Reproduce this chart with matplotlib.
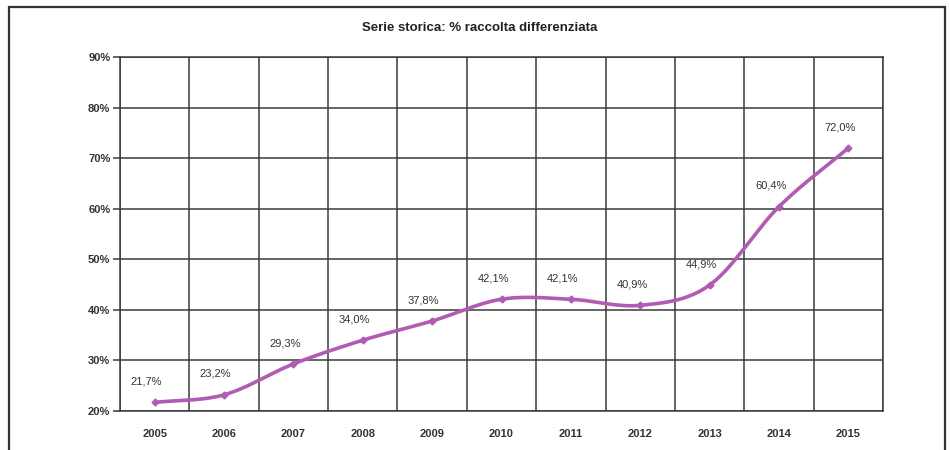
import numpy as np
import matplotlib
matplotlib.use("Agg")
import matplotlib.pyplot as plt
from matplotlib.patches import Rectangle
from matplotlib.ticker import FixedLocator

years = ["2005", "2006", "2007", "2008", "2009", "2010", "2011", "2012", "2013", "2014", "2015"]
values = [21.7, 23.2, 29.3, 34.0, 37.8, 42.1, 42.1, 40.9, 44.9, 60.4, 72.0]
labels = ["21,7%", "23,2%", "29,3%", "34,0%", "37,8%", "42,1%", "42,1%", "40,9%", "44,9%", "60,4%", "72,0%"]
yticks = [20, 30, 40, 50, 60, 70, 80, 90]
title = "Serie storica: % raccolta differenziata"

plt.rcParams['font.family'] = ['Liberation Sans', 'DejaVu Sans']
line_color = "#B05CB2"
text_color = "#333333"
grid_color = "#3a3a3a"

fig = plt.figure(figsize=(9.5, 4.5), dpi=100)
ax = fig.add_axes([120/950, 1-411/450, (883-120)/950, (411-57)/450])

x = np.arange(len(years), dtype=float)
y = np.array(values, dtype=float)

# Catmull-Rom style smoothing (like spreadsheet "smoothed line")
def smooth(xp, yp, n=30):
    px = np.concatenate([[2*xp[0]-xp[1]], xp, [2*xp[-1]-xp[-2]]])
    py = np.concatenate([[2*yp[0]-yp[1]], yp, [2*yp[-1]-yp[-2]]])
    xs, ys = [], []
    for i in range(1, len(px)-2):
        t = np.linspace(0, 1, n, endpoint=False)
        for arr, out in ((px, xs), (py, ys)):
            p0, p1, p2, p3 = arr[i-1], arr[i], arr[i+1], arr[i+2]
            out.extend(0.5*((2*p1) + (-p0+p2)*t + (2*p0-5*p1+4*p2-p3)*t**2 + (-p0+3*p1-3*p2+p3)*t**3))
    xs.append(xp[-1]); ys.append(yp[-1])
    return np.array(xs), np.array(ys)

sx, sy = smooth(x, y)
ax.plot(sx, sy, color=line_color, lw=2.6, solid_capstyle='round', zorder=3)
ax.plot(x, y, linestyle='none', marker='D', ms=3.5, color=line_color, zorder=4)

for xi, yi, lab in zip(x, y, labels):
    ax.annotate(lab, (xi, yi), xytext=(-6, 15), textcoords='offset points',
                ha='center', va='center', fontsize=8, color=text_color)

ax.set_xlim(-0.5, len(years)-0.5)
ax.set_ylim(20, 90)
ax.set_yticks(yticks)
ax.set_yticklabels([f"{v}%" for v in yticks])
ax.set_xticks(x)
ax.set_xticklabels(years)
ax.xaxis.set_minor_locator(FixedLocator(np.arange(-0.5, len(years), 1.0)))
ax.grid(True, which='minor', axis='x', color=grid_color, lw=1.1)
ax.grid(True, which='major', axis='y', color=grid_color, lw=1.1)
ax.tick_params(axis='x', which='both', length=0, pad=13, labelsize=8, labelcolor=text_color)
ax.tick_params(axis='y', length=5, width=1.1, color=grid_color, pad=2, labelsize=8, labelcolor=text_color)
for lab in ax.get_xticklabels() + ax.get_yticklabels():
    lab.set_fontweight('bold')
for s in ax.spines.values():
    s.set_color(grid_color)
    s.set_linewidth(1.1)
ax.set_axisbelow(True)

fig.text(480/950, 1-28/450, title, ha='center', va='center', fontsize=9.5,
         fontweight='bold', color='#222222')

fig.patches.append(Rectangle((9/950, -0.1), (945-9)/950, 1.1-7/450,
                             transform=fig.transFigure, fill=False,
                             edgecolor='#333333', lw=1.6))

fig.savefig("out.png", dpi=100)
